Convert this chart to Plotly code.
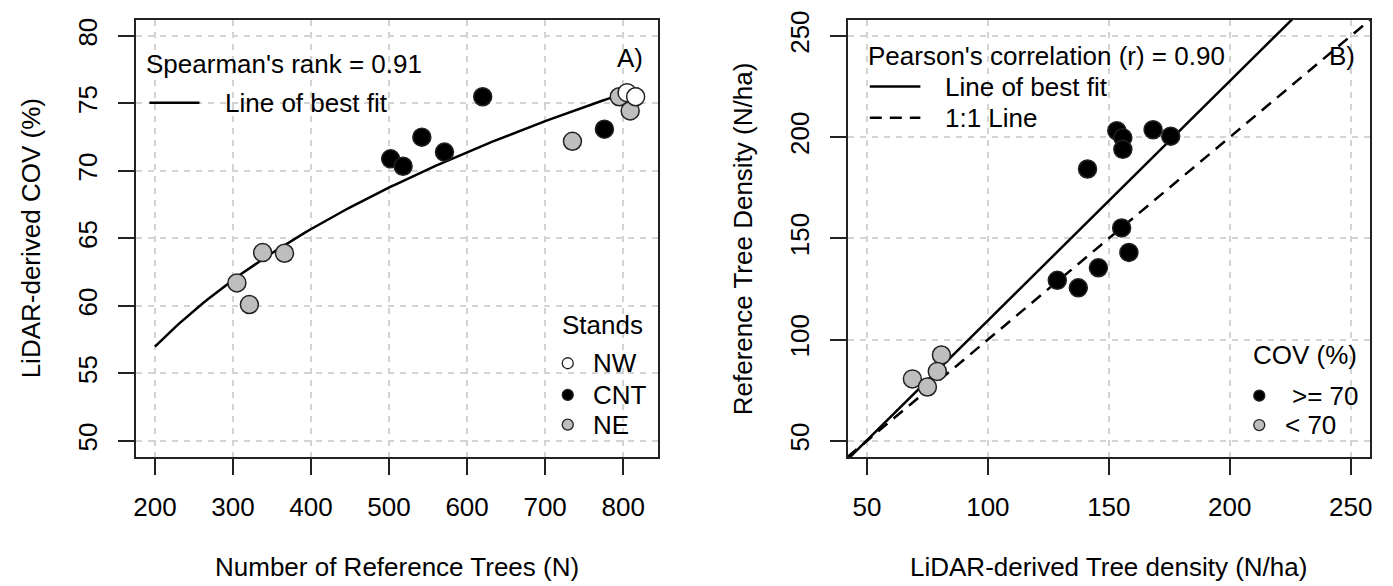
import numpy as np
import plotly.graph_objects as go

# ---------------- data ----------------
# Panel A: Number of reference trees vs LiDAR-derived COV (%)
nw_x = [805, 816]
nw_y = [75.8, 75.5]
cnt_x = [502, 518, 542, 571, 620, 776]
cnt_y = [70.9, 70.35, 72.5, 71.4, 75.5, 73.1]
ne_x = [305, 321, 338, 366, 735, 795, 809]
ne_y = [61.7, 60.1, 63.95, 63.9, 72.2, 75.5, 74.45]
a_xticks = [200, 300, 400, 500, 600, 700, 800]
a_yticks = [50, 55, 60, 65, 70, 75, 80]
a_fit_range = [200, 820]

# Panel B: LiDAR-derived vs reference tree density (N/ha)
hi_x = [153.3, 155.8, 155.8, 168.3, 175.6, 141.2, 155.3, 158.3, 145.7, 128.7, 137.4]
hi_y = [203.2, 199.7, 194.0, 203.7, 200.5, 184.3, 155.2, 143.1, 135.5, 129.3, 125.6]
lo_x = [80.8, 79.1, 68.8, 75.0]
lo_y = [92.4, 84.3, 80.6, 76.6]
b_ticks = [50, 100, 150, 200, 250]

# ---------------- style ----------------
FONT = "Liberation Sans, Arial, sans-serif"
FS = 26
GRAY = "#BEBEBE"
EDGE = "#222222"
MS = 18

fig = go.Figure()

# --- Panel A fit (power-law fit of all points: log y ~ log x) ---
ax_all = np.array(nw_x + cnt_x + ne_x, dtype=float)
ay_all = np.array(nw_y + cnt_y + ne_y, dtype=float)
ca = np.polyfit(np.log(ax_all), np.log(ay_all), 1)
fx = np.linspace(a_fit_range[0], a_fit_range[1], 120)
fig.add_trace(go.Scatter(x=fx, y=np.exp(np.polyval(ca, np.log(fx))), mode="lines",
                         line=dict(color="black", width=2.5), xaxis="x", yaxis="y", showlegend=False))

def pts(x, y, fill, xa, ya):
    fig.add_trace(go.Scatter(x=x, y=y, mode="markers", xaxis=xa, yaxis=ya, showlegend=False,
                             marker=dict(size=MS, color=fill, line=dict(color=EDGE, width=1.5))))

pts(ne_x, ne_y, GRAY, "x", "y")
pts(cnt_x, cnt_y, "black", "x", "y")
pts(nw_x, nw_y, "white", "x", "y")

# --- Panel B lines ---
bx = np.array([42, 258], dtype=float)
cb = np.polyfit(np.array(hi_x + lo_x), np.array(hi_y + lo_y), 1)
fig.add_trace(go.Scatter(x=bx, y=np.polyval(cb, bx), mode="lines", xaxis="x2", yaxis="y2",
                         line=dict(color="black", width=2.5), showlegend=False))
fig.add_trace(go.Scatter(x=bx, y=bx, mode="lines", xaxis="x2", yaxis="y2",
                         line=dict(color="black", width=2.5, dash="12px,8px"), showlegend=False))
pts(hi_x, hi_y, "black", "x2", "y2")
pts(lo_x, lo_y, GRAY, "x2", "y2")

# --- in-plot legends (drawn in data coordinates) ---
fig.add_trace(go.Scatter(x=[193, 257], y=[75.05, 75.05], mode="lines", xaxis="x", yaxis="y",
                         line=dict(color="black", width=2.5), showlegend=False))
fig.add_trace(go.Scatter(x=[729, 729, 729], y=[55.75, 53.4, 51.2], mode="markers", xaxis="x", yaxis="y",
                         showlegend=False,
                         marker=dict(size=11, color=["white", "black", GRAY], line=dict(color=EDGE, width=1.3))))
fig.add_trace(go.Scatter(x=[51.2, 72.1], y=[225, 225], mode="lines", xaxis="x2", yaxis="y2",
                         line=dict(color="black", width=2.5), showlegend=False))
fig.add_trace(go.Scatter(x=[51.2, 72.1], y=[209.6, 209.6], mode="lines", xaxis="x2", yaxis="y2",
                         line=dict(color="black", width=2.5, dash="12px,8px"), showlegend=False))
fig.add_trace(go.Scatter(x=[212.2, 212.2], y=[72.3, 57.8], mode="markers", xaxis="x2", yaxis="y2",
                         showlegend=False,
                         marker=dict(size=11, color=["black", GRAY], line=dict(color=EDGE, width=1.3))))

ann = []
def txt(x, y, s, xref, yref, xanchor="left", yanchor="middle", angle=0):
    ann.append(dict(x=x, y=y, text=s, xref=xref, yref=yref, xanchor=xanchor, yanchor=yanchor,
                    showarrow=False, textangle=angle, font=dict(family=FONT, size=FS, color="black")))

txt(186.3, 77.95, "Spearman's rank = 0.91", "x", "y")
txt(286.7, 75.05, "Line of best fit", "x", "y")
txt(828, 78.4, "A)", "x", "y", xanchor="right")
txt(719.2, 58.6, "Stands", "x", "y")
txt(759, 55.75, "NW", "x", "y")
txt(759, 53.4, "CNT", "x", "y")
txt(759, 51.2, "NE", "x", "y")

txt(49.5, 240.3, "Pearson's correlation (r) = 0.90", "x2", "y2")
txt(81.6, 225, "Line of best fit", "x2", "y2")
txt(81.6, 209.6, "1:1 Line", "x2", "y2")
txt(252.5, 240.3, "B)", "x2", "y2", xanchor="right")
txt(208.6, 92.5, "COV (%)", "x2", "y2")
txt(224.7, 72.3, ">= 70", "x2", "y2")
txt(222.2, 57.8, "< 70", "x2", "y2")

# axis titles
txt(396 / 1393, 1 - 567 / 586, "Number of Reference Trees (N)", "paper", "paper", xanchor="center")
txt(1110 / 1393, 1 - 567 / 586, "LiDAR-derived Tree density (N/ha)", "paper", "paper", xanchor="center")
txt(30 / 1393, 1 - 233 / 586, "LiDAR-derived COV (%)", "paper", "paper", xanchor="center", angle=-90)
txt(744 / 1393, 1 - 233 / 586, "Reference Tree Density (N/ha)", "paper", "paper", xanchor="center", angle=-90)

ydom = [1 - 455 / 586, 1 - 11 / 586]
common = dict(showline=True, mirror=True, linecolor=EDGE, linewidth=1.5,
              ticks="outside", ticklen=16, tickwidth=1.5, tickcolor=EDGE,
              showgrid=True, gridcolor="#D3D3D3", gridwidth=2, griddash="6px,6px",
              zeroline=False, layer="above traces", ticklabelstandoff=10,
              tickfont=dict(family=FONT, size=FS, color="black"))

fig.update_layout(
    width=1393, height=586, margin=dict(l=0, r=0, t=0, b=0),
    paper_bgcolor="white", plot_bgcolor="white", showlegend=False,
    xaxis=dict(domain=[134 / 1393, 658 / 1393], range=[175.2, 844.8], tickvals=a_xticks,
               anchor="y", **common),
    yaxis=dict(domain=ydom, range=[48.8, 81.2], tickvals=a_yticks, tickangle=-90,
               anchor="x", **common),
    xaxis2=dict(domain=[848 / 1393, 1372 / 1393], range=[42, 258], tickvals=b_ticks,
                anchor="y2", **common),
    yaxis2=dict(domain=ydom, range=[42, 258], tickvals=b_ticks, tickangle=-90,
                anchor="x2", **common),
    annotations=ann,
)

fig.write_html("out.html")
